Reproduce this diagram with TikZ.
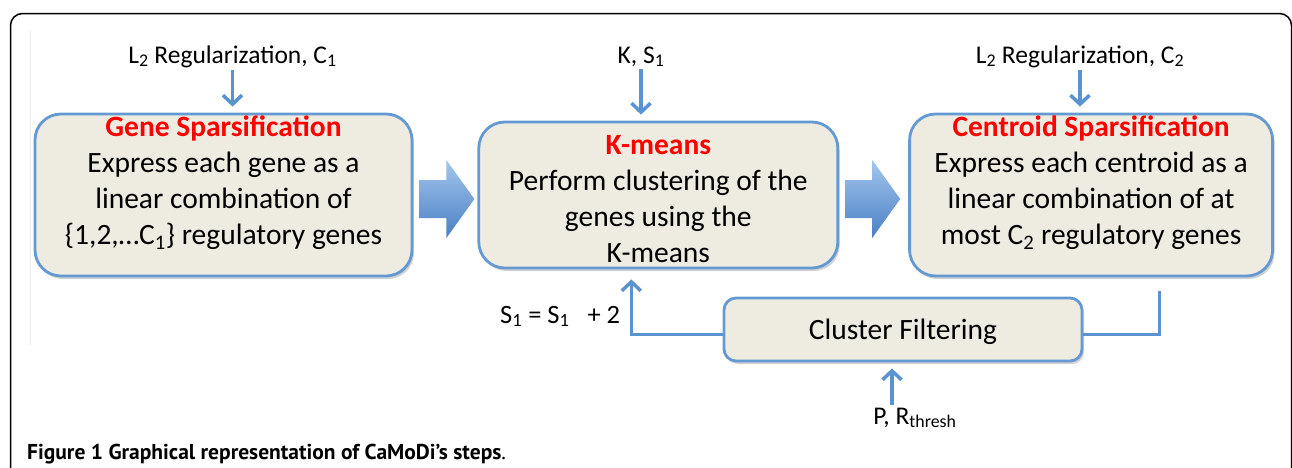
\documentclass[tikz,border=0pt]{standalone}
\usepackage{fontspec}
\setmainfont{Carlito}
\newfontfamily\capfont{PT Sans}
\usetikzlibrary{calc,positioning,arrows.meta,shadows}
\definecolor{boxfill}{HTML}{EEECE1}
\definecolor{boxline}{HTML}{6499D2}
\definecolor{flowblue}{HTML}{5B93D0}
\definecolor{lightblue}{HTML}{A3C6EE}
\definecolor{darkblue}{HTML}{4A7FC3}
\definecolor{titlered}{HTML}{FF0000}

\begin{document}
\begin{tikzpicture}[
                x=1pt,y=-1pt,
                node distance=64pt,
                stepbox/.style={draw=boxline,line width=2.8pt,fill=boxfill,rounded corners=26pt,
                    drop shadow={shadow xshift=2pt,shadow yshift=-3pt,opacity=.25,fill=black!70}},
                filterbox/.style={stepbox,rounded corners=12pt},
                steptext/.style={align=center,inner sep=0pt,font=\fontsize{29.5}{36}\selectfont},
                lbl/.style={inner sep=2pt,font=\fontsize{25.5}{30}\selectfont},
                thinline/.style={draw=flowblue,line width=3.5pt},
                thinarrow/.style={thinline,-{Straight Barb[length=9pt,width=19pt]},shorten >=6pt},
                bigarrow/.style={top color=lightblue,bottom color=darkblue,draw=none}
            ]
                \useasboundingbox (0,0) rectangle (1292,467);
                \draw[line width=1.5pt,rounded corners=12pt] (10.5,475) -- (10.5,13.5) -- (1291.5,13.5) -- (1291.5,475);
                \draw[black!7,line width=1pt] (30,30) -- (30,345);

                \node[stepbox,minimum width=377pt,minimum height=162pt] (gene) at (223.5,195) {};
                \node[stepbox,minimum width=359pt,minimum height=146pt,right=64pt of gene] (kmeans) {};
                \node[stepbox,minimum width=363pt,minimum height=162pt,right=69pt of kmeans] (centroid) {};
                \node[filterbox,minimum width=358pt,minimum height=63pt] (filter) at (903,329.5) {};

                \node[steptext,anchor=north] (geneText) at ([yshift=-3pt]gene.north)
                    {{\color{titlered}\bfseries Gene Sparsification}\\Express each gene as a\\linear combination of\\\{1,2,…C\textsubscript{1}\} regulatory genes};
                \node[steptext,anchor=north] (kmeansText) at ([yshift=-15pt]kmeans.north)
                    {{\color{titlered}\bfseries K-means}\\Perform clustering of the\\genes using the\\K-means};
                \node[steptext,anchor=north] (centroidText) at ([yshift=-3pt]centroid.north)
                    {{\color{titlered}\bfseries Centroid Sparsification}\\Express each centroid as a\\linear combination of at\\most C\textsubscript{2} regulatory genes};
                \node[steptext] (filterText) at ([yshift=-2pt]filter.center) {Cluster Filtering};

                \foreach \a in {gene,kmeans}
                    \shade[bigarrow] ($(\a.east)+(6,-15)$) -- ++(27,0) -- ++(0,-20) -- ++(28,39)
                        -- ++(-28,39) -- ++(0,-20) -- ++(-27,0) -- cycle;

                \node[lbl,anchor=base] (lblGene) at (232.5,63) {L\textsubscript{2} Regularization, C\textsubscript{1}};
                \node[lbl,anchor=base] (lblKmeans) at (641,63) {K, S\textsubscript{1}};
                \node[lbl,anchor=base] (lblCentroid) at (1080,63) {L\textsubscript{2} Regularization, C\textsubscript{2}};
                \node[lbl,anchor=base] (lblFilter) at (915,424) {P, R\textsubscript{thresh}};
                \node[lbl,anchor=base west,font=\fontsize{26.5}{30}\selectfont] (lblLoop) at (498,323)
                    {S\textsubscript{1} = S\textsubscript{1}\ \ \ + 2};

                \draw[thinarrow] (lblGene.south) -- (lblGene.south |- gene.north);
                \draw[thinarrow] (lblKmeans.south) -- (lblKmeans.south |- kmeans.north);
                \draw[thinarrow] (lblCentroid.south) -- (lblCentroid.south |- centroid.north);
                \draw[thinarrow] ([xshift=-23pt]lblFilter.north) -- ([xshift=-23pt]lblFilter.north |- filter.south);
                \draw[thinarrow,shorten >=10pt] ([yshift=-5pt]filter.west) -| ([xshift=-27pt]kmeans.south);
                \draw[thinline] ([yshift=-5pt]filter.east) -| ($(centroid.south)+(68.5,14)$);

                \node[anchor=base west,inner sep=0pt,font=\capfont\bfseries\fontsize{21.5}{24}\selectfont] (caption) at (27,459)
                    {Figure 1 Graphical representation of CaMoDi’s steps{\mdseries.}};
            \end{tikzpicture}
\end{document}
